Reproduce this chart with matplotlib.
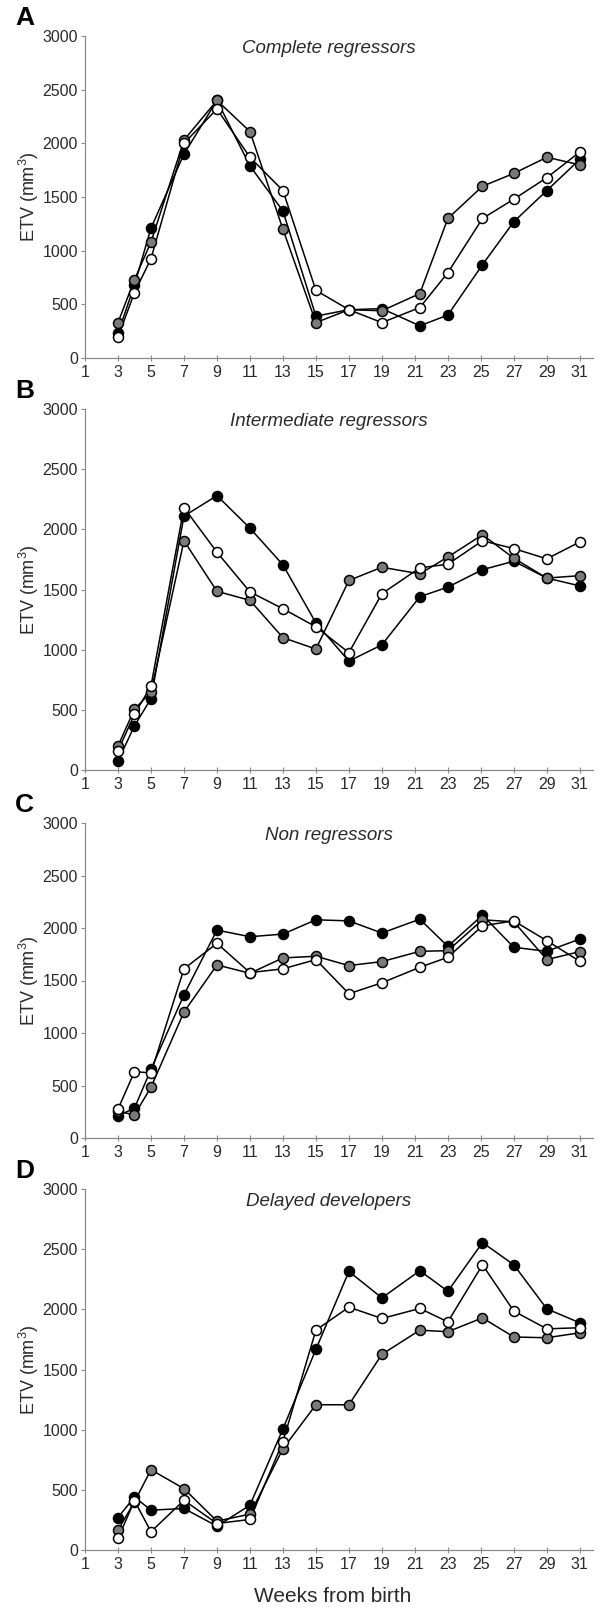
import matplotlib
matplotlib.use("Agg")
import matplotlib.pyplot as plt

plt.rcParams['font.family'] = ['Liberation Sans', 'DejaVu Sans']
plt.rcParams['mathtext.default'] = 'regular'

weeks = [3, 4, 5, 7, 9, 11, 13, 15, 17, 19, 21.3, 23, 25.1, 27, 29, 31]
xtick_labels = list(range(1, 32, 2))
yticks = [0, 500, 1000, 1500, 2000, 2500, 3000]

titles = ["Complete regressors", "Intermediate regressors",
          "Non regressors", "Delayed developers"]
letters = ["A", "B", "C", "D"]

# Panel A
a_black = [230, 680, 1210, 1900, 2400, 1790, 1370, 390, 450, 460, 300, 400, 870, 1270, 1560, 1850]
a_gray = [330, 730, 1080, 2030, 2400, 2110, 1200, 330, 450, 440, 600, 1300, 1600, 1720, 1870, 1800]
a_white = [195, 610, 925, 2000, 2320, 1870, 1560, 630, 450, 330, 470, 795, 1300, 1480, 1680, 1920]
# Panel B
b_black = [75, 367, 593, 2110, 2280, 2010, 1705, 1222, 905, 1040, 1440, 1520, 1665, 1735, 1595, 1530]
b_gray = [200, 505, 648, 1905, 1485, 1410, 1100, 1005, 1575, 1685, 1630, 1770, 1955, 1760, 1595, 1615]
b_white = [160, 463, 698, 2180, 1810, 1480, 1340, 1190, 975, 1465, 1680, 1710, 1905, 1840, 1755, 1895]
# Panel C
c_black = [212, 284, 654, 1364, 1980, 1917, 1942, 2078, 2068, 1952, 2084, 1825, 2122, 1816, 1778, 1895]
c_gray = [253, 221, 483, 1200, 1648, 1569, 1715, 1731, 1642, 1680, 1778, 1784, 2078, 2059, 1699, 1775]
c_white = [275, 632, 620, 1611, 1854, 1575, 1611, 1699, 1374, 1478, 1626, 1721, 2021, 2068, 1879, 1683]
# Panel D
d_black = [270, 440, 331, 345, 198, 372, 1006, 1668, 2315, 2095, 2321, 2150, 2555, 2370, 2004, 1888]
d_gray = [165, 400, 667, 510, 240, 298, 841, 1207, 1207, 1626, 1827, 1814, 1929, 1770, 1764, 1805]
d_white = [96, 410, 152, 413, 220, 254, 900, 1827, 2018, 1924, 2007, 1896, 2370, 1985, 1838, 1847]

panels = [(a_black, a_gray, a_white), (b_black, b_gray, b_white),
          (c_black, c_gray, c_white), (d_black, d_gray, d_white)]

fills = ['black', '#7a7a7a', 'white']

W, H = 605, 1614
fig = plt.figure(figsize=(W / 100, H / 100), dpi=100)

# axes boxes in pixels: (top, bottom)
boxes = [(36, 358), (409, 770), (823, 1138), (1189, 1550)]
left_px, right_px = 85, 593
txt_col = '#2a2a2a'
spine_col = '#8a8a8a'

for i, ((top, bot), series) in enumerate(zip(boxes, panels)):
    ax = fig.add_axes([left_px / W, 1 - bot / H, (right_px - left_px) / W, (bot - top) / H])
    for s, fc in zip(series, fills):
        ax.plot(weeks, s, color='black', lw=1.1, zorder=2)
    for s, fc in zip(series, fills):
        ax.plot(weeks, s, ls='none', marker='o', ms=7.2, mfc=fc, mec='black',
                mew=1.1, zorder=3, clip_on=False)
    ax.set_xlim(1, 31.8)
    ax.set_ylim(0, 3000)
    ax.set_xticks(xtick_labels)
    ax.set_yticks(yticks)
    for sp in ['top', 'right']:
        ax.spines[sp].set_visible(False)
    for sp in ['left', 'bottom']:
        ax.spines[sp].set_color(spine_col)
        ax.spines[sp].set_linewidth(0.9)
    ax.tick_params(axis='x', direction='inout', length=4, width=0.8, color=spine_col,
                   labelsize=11.5, labelcolor=txt_col, pad=3)
    ax.tick_params(axis='y', direction='out', length=3, width=0.8, color=spine_col,
                   labelsize=11.5, labelcolor=txt_col, pad=2)
    ax.text(0.48, 1 - 12 / (bot - top), titles[i], transform=ax.transAxes,
            ha='center', va='center', fontsize=13.5, style='italic', color=txt_col)
    fig.text(29 / W, 1 - ((top + bot) / 2) / H, "ETV (mm$^3$)", rotation=90,
             ha='center', va='center', fontsize=13, color=txt_col)
    fig.text(15 / W, 1 - (top - 6) / H, letters[i], ha='left', va='bottom',
             fontsize=19, fontweight='bold', color='black')

fig.text(333 / W, 1 - 1596 / H, "Weeks from birth", ha='center', va='center',
         fontsize=15, color=txt_col)

fig.savefig("out.png", dpi=100, facecolor='white')
